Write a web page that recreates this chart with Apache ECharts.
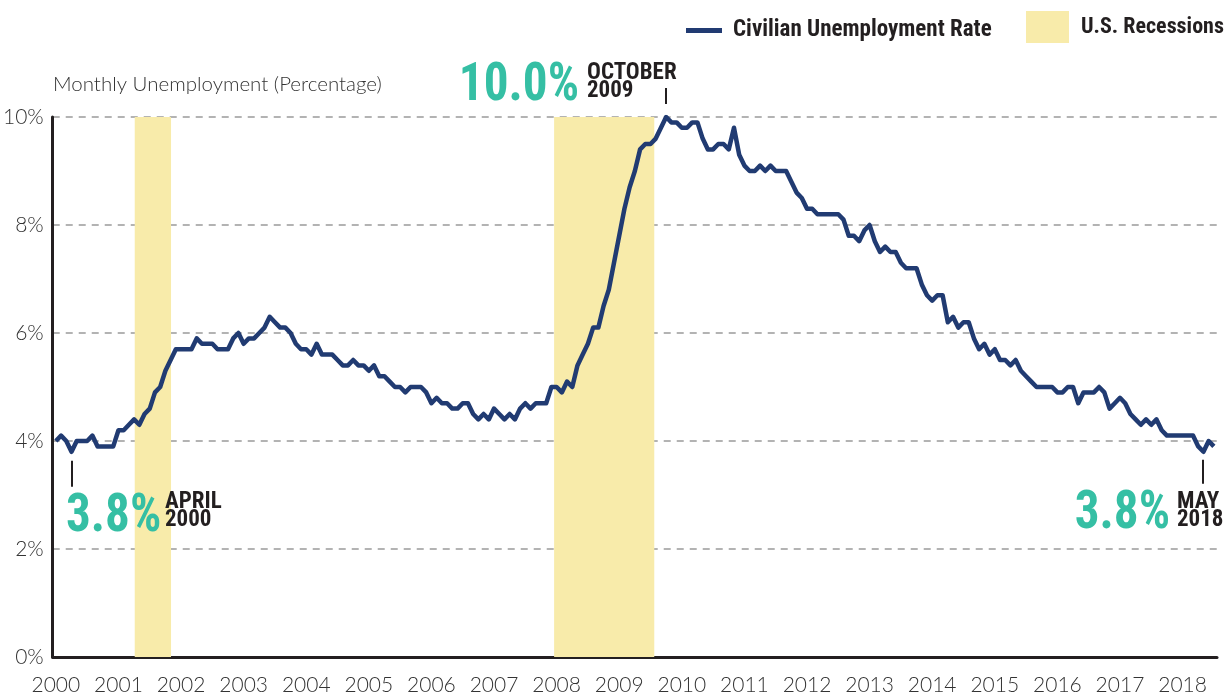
<!DOCTYPE html>
<html>
<head>
<meta charset="utf-8">
<script src="https://cdn.jsdelivr.net/npm/echarts@6/dist/echarts.min.js"></script>
<style>
  html, body { margin: 0; padding: 0; background: #fff; }
  #chart { width: 1225px; height: 696px; }
</style>
</head>
<body>
<div id="chart"></div>
<script>
// monthly civilian unemployment rate, Jan 2000 - Jul 2018
var years = [2000, 2001, 2002, 2003, 2004, 2005, 2006, 2007, 2008, 2009,
             2010, 2011, 2012, 2013, 2014, 2015, 2016, 2017, 2018];
var rate2000 = [4.0, 4.1, 4.0, 3.8, 4.0, 4.0, 4.0, 4.1, 3.9, 3.9, 3.9, 3.9];
var rate2001 = [4.2, 4.2, 4.3, 4.4, 4.3, 4.5, 4.6, 4.9, 5.0, 5.3, 5.5, 5.7];
var rate2002 = [5.7, 5.7, 5.7, 5.9, 5.8, 5.8, 5.8, 5.7, 5.7, 5.7, 5.9, 6.0];
var rate2003 = [5.8, 5.9, 5.9, 6.0, 6.1, 6.3, 6.2, 6.1, 6.1, 6.0, 5.8, 5.7];
var rate2004 = [5.7, 5.6, 5.8, 5.6, 5.6, 5.6, 5.5, 5.4, 5.4, 5.5, 5.4, 5.4];
var rate2005 = [5.3, 5.4, 5.2, 5.2, 5.1, 5.0, 5.0, 4.9, 5.0, 5.0, 5.0, 4.9];
var rate2006 = [4.7, 4.8, 4.7, 4.7, 4.6, 4.6, 4.7, 4.7, 4.5, 4.4, 4.5, 4.4];
var rate2007 = [4.6, 4.5, 4.4, 4.5, 4.4, 4.6, 4.7, 4.6, 4.7, 4.7, 4.7, 5.0];
var rate2008 = [5.0, 4.9, 5.1, 5.0, 5.4, 5.6, 5.8, 6.1, 6.1, 6.5, 6.8, 7.3];
var rate2009 = [7.8, 8.3, 8.7, 9.0, 9.4, 9.5, 9.5, 9.6, 9.8, 10.0, 9.9, 9.9];
var rate2010 = [9.8, 9.8, 9.9, 9.9, 9.6, 9.4, 9.4, 9.5, 9.5, 9.4, 9.8, 9.3];
var rate2011 = [9.1, 9.0, 9.0, 9.1, 9.0, 9.1, 9.0, 9.0, 9.0, 8.8, 8.6, 8.5];
var rate2012 = [8.3, 8.3, 8.2, 8.2, 8.2, 8.2, 8.2, 8.1, 7.8, 7.8, 7.7, 7.9];
var rate2013 = [8.0, 7.7, 7.5, 7.6, 7.5, 7.5, 7.3, 7.2, 7.2, 7.2, 6.9, 6.7];
var rate2014 = [6.6, 6.7, 6.7, 6.2, 6.3, 6.1, 6.2, 6.2, 5.9, 5.7, 5.8, 5.6];
var rate2015 = [5.7, 5.5, 5.5, 5.4, 5.5, 5.3, 5.2, 5.1, 5.0, 5.0, 5.0, 5.0];
var rate2016 = [4.9, 4.9, 5.0, 5.0, 4.7, 4.9, 4.9, 4.9, 5.0, 4.9, 4.6, 4.7];
var rate2017 = [4.8, 4.7, 4.5, 4.4, 4.3, 4.4, 4.3, 4.4, 4.2, 4.1, 4.1, 4.1];
var rate2018 = [4.1, 4.1, 4.1, 3.9, 3.8, 4.0, 3.9];

var monthlyRates = [rate2000, rate2001, rate2002, rate2003, rate2004, rate2005, rate2006,
                    rate2007, rate2008, rate2009, rate2010, rate2011, rate2012, rate2013,
                    rate2014, rate2015, rate2016, rate2017, rate2018];

// recession spans (decimal years)
var recessionStart = [2001.26, 2007.96];
var recessionEnd = [2001.84, 2009.56];

var yTicks = [0, 2, 4, 6, 8, 10];

// highlighted points: year + month index (0 = Jan)
var callouts = [
    { year: 2000, month: 3, value: '3.8%', line1: 'APRIL', line2: '2000', side: 'below-right' },
    { year: 2009, month: 9, value: '10.0%', line1: 'OCTOBER', line2: '2009', side: 'above-left' },
    { year: 2018, month: 4, value: '3.8%', line1: 'MAY', line2: '2018', side: 'below-left' }
];

var navy = '#213b72';
var teal = '#35bfa4';
var sand = '#f8ebaa';
var ink = '#231f20';
var thinFont = 'Lato, "Open Sans", sans-serif';
var boldFont = '"Roboto Condensed", Roboto, sans-serif';

var lineData = [];
for (var y = 0; y < monthlyRates.length; y++) {
    for (var m = 0; m < monthlyRates[y].length; m++) {
        lineData.push([years[y] + m / 12, monthlyRates[y][m]]);
    }
}

var areas = [];
for (var i = 0; i < recessionStart.length; i++) {
    areas.push([{ xAxis: recessionStart[i] }, { xAxis: recessionEnd[i] }]);
}

var chart = echarts.init(document.getElementById('chart'));

var option = {
    animation: false,
    title: {
        text: 'Monthly Unemployment (Percentage)',
        left: 48,
        top: 69,
        textStyle: { fontFamily: thinFont, fontWeight: 300, fontSize: 20.5, color: '#333' }
    },
    legend: [
        {
            left: 686, top: 19, padding: 0,
            icon: 'rect', itemWidth: 36, itemHeight: 5,
            data: ['Civilian Unemployment Rate'],
            textStyle: { fontFamily: boldFont, fontWeight: 'bold', fontSize: 23, color: ink, padding: [0, 0, 0, 6] }
        },
        {
            left: 1026, top: 11, padding: 0,
            icon: 'rect', itemWidth: 43, itemHeight: 32,
            data: ['U.S. Recessions'],
            textStyle: { fontFamily: boldFont, fontWeight: 'bold', fontSize: 22, color: ink, padding: [0, 0, 0, 7] }
        }
    ],
    grid: { left: 52, right: 8, top: 117, bottom: 39, containLabel: false },
    xAxis: {
        type: 'value',
        min: 1999.95,
        max: 2018.55,
        splitLine: { show: false },
        axisTick: { show: false },
        axisLine: { lineStyle: { color: ink, width: 3 } },
        axisLabel: {
            customValues: years,
            formatter: function (v) { return String(Math.round(v)); },
            margin: 18,
            fontFamily: thinFont, fontWeight: 300, fontSize: 21, color: '#333'
        }
    },
    yAxis: {
        type: 'value',
        min: 0, max: 10, interval: 2,
        axisLine: { show: true, lineStyle: { color: ink, width: 3 } },
        axisTick: { show: false },
        splitLine: { lineStyle: { color: '#9a9a9a', type: [7, 6], width: 1.5 } },
        axisLabel: {
            customValues: yTicks,
            formatter: '{value}%',
            margin: 9,
            fontFamily: thinFont, fontWeight: 300, fontSize: 21, color: '#333'
        }
    },
    series: [
        {
            name: 'U.S. Recessions',
            type: 'line',
            data: [],
            itemStyle: { color: sand },
            lineStyle: { color: sand },
            markArea: {
                silent: true,
                itemStyle: { color: sand, opacity: 1 },
                data: areas
            }
        },
        {
            name: 'Civilian Unemployment Rate',
            type: 'line',
            data: lineData,
            showSymbol: false,
            symbol: 'none',
            z: 5,
            itemStyle: { color: navy },
            lineStyle: { color: navy, width: 4.5, join: 'round' }
        }
    ]
};

chart.setOption(option);

// callout labels, placed relative to the highlighted data point
function buildCallouts() {
    var g = [];
    for (var i = 0; i < callouts.length; i++) {
        var c = callouts[i];
        var yi = years.indexOf(c.year);
        var val = monthlyRates[yi][c.month];
        var p = chart.convertToPixel({ gridIndex: 0 }, [c.year + c.month / 12, val]);
        var px = Math.round(p[0]), py = p[1];
        var tick, big, l1, l2;
        if (c.side === 'above-left') {
            tick = [py - 29, py - 13];
            big = { x: px - 87, y: py - 31, align: 'right' };
            l1 = { x: px - 79, y: py - 44 };
            l2 = { x: px - 79, y: py - 26 };
        } else if (c.side === 'below-right') {
            tick = [py + 9, py + 35];
            big = { x: px - 6, y: py + 66, align: 'left' };
            l1 = { x: px + 93, y: py + 50 };
            l2 = { x: px + 93, y: py + 68 };
        } else {
            tick = [py + 8, py + 32];
            big = { x: px - 33, y: py + 63, align: 'right' };
            l1 = { x: px - 26, y: py + 50 };
            l2 = { x: px - 26, y: py + 68 };
        }
        g.push({
            type: 'line', silent: true, z: 10,
            shape: { x1: px, y1: tick[0], x2: px, y2: tick[1] },
            style: { stroke: ink, lineWidth: 2 }
        });
        g.push({
            type: 'text', silent: true, z: 10, x: big.x, y: big.y, scaleX: 0.91,
            style: {
                text: c.value, fill: teal, align: big.align, verticalAlign: 'middle',
                font: 'bold 54px ' + boldFont
            }
        });
        g.push({
            type: 'text', silent: true, z: 10, x: l1.x, y: l1.y,
            style: { text: c.line1, fill: ink, align: 'left', verticalAlign: 'middle', font: 'bold 23px ' + boldFont }
        });
        g.push({
            type: 'text', silent: true, z: 10, x: l2.x, y: l2.y,
            style: { text: c.line2, fill: ink, align: 'left', verticalAlign: 'middle', font: 'bold 23px ' + boldFont }
        });
    }
    return g;
}

chart.setOption({ graphic: buildCallouts() });
</script>
</body>
</html>
